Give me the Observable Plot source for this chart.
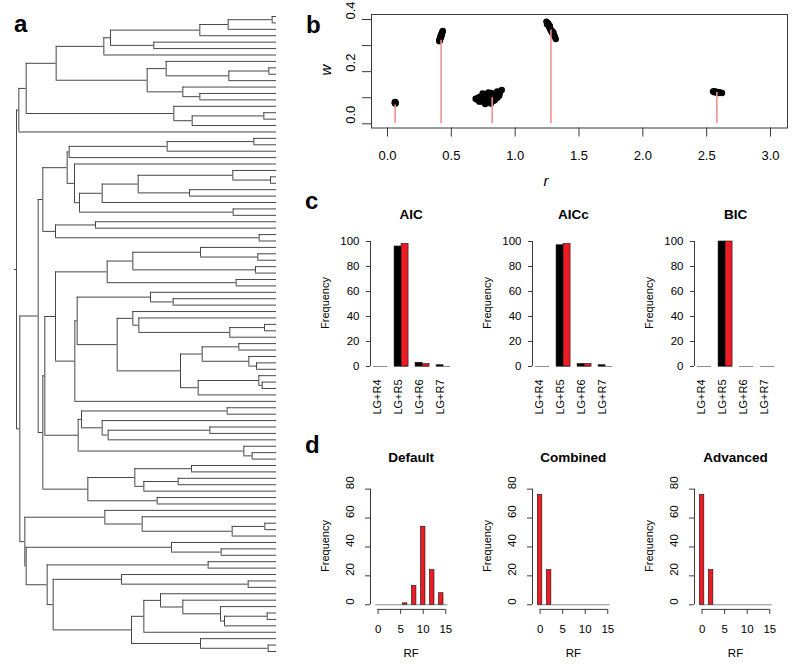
<!DOCTYPE html>
<html>
<head>
<meta charset="utf-8">
<script src="https://cdn.jsdelivr.net/npm/d3@7"></script>
<script src="https://cdn.jsdelivr.net/npm/@observablehq/plot@0.6"></script>
<style>
  body { margin: 0; background: #fff; }
  #fig { position: relative; width: 800px; height: 669px; overflow: hidden; background: #fff;
         font-family: "Liberation Sans", Arial, Helvetica, sans-serif; }
  #fig svg { position: absolute; overflow: visible; }
  .lbl { position: absolute; white-space: nowrap; line-height: 1; color: #000; }
</style>
</head>
<body>
<div id="fig"></div>
<script>
// ---------------- DATA ----------------
// Panel a: phylogeny (Newick; internal node labels are node ages, tips are age 0)
const cladeA   = "((((((((0,0)1.3,0)14.5,0)23.0,(0,0)36.8)49.8,0)51.8,((0,((0,0)2.3,0)14.3)33.1,(0,(0,0)23.0)28.1)38.8)66.1,(0,((0,0)3.8,0)25.3)30.8)75.1,0)77.3";
const cladeX   = "(((((0,0)6.8,0)32.8,0)62.2,(0,((((0,(0,0)1.8)13.1,(0,0)26.1)41.5,0)52.3,(0,0)13.0)59.1)60.6)62.8,((0,0)54.3,(0,0)5.2)66.3)70.1";
const cladeAA  = "((((0,(0,0)5.6)22.8,(0,0)6.3)43.1,(0,0)12.1)50.8,(((0,(0,0)31.0)37.8,((0,(0,((0,0)3.6,0)14.0)41.3)43.1,(((0,0)11.3,(0,(0,0)6.0)8.3)22.3,((0,(0,0)4.3)5.3,0)23.5)28.8)47.8)59.8,0)60.5)66.3";
const clade233 = "(((0,0)14.8,(0,((0,0)20.0,0)50.5)52.3)58.5,(0,(0,0)7.3)9.8)59.5";
const clade262 = "(((0,0)25.5,((0,0)29.5,0)39.8)42.5,(0,0)35.8)56.6";
const clade73  = "((0,(0,((0,0)3.5,0)13.3)40.3)51.5,((0,(0,0)16.6)31.5,((0,0)20.5,((0,(0,0)8.5)46.5,(((0,(0,(0,((0,0)2.8,0)15.6)16.8)28.1)34.8,0)39.8,(0,(0,0)2.5)22.8)43.5)67.0)68.8)75.1)75.5";
const treeNewick = `(${cladeA},((${cladeX},((${cladeAA},${clade233})69.5,${clade262})70.1)71.5,${clade73})77.0)78.0`;
const rootEdge = 0.6;

// Panel b: rate (r) / weight (w) estimates and true components
const fit1 = [[0.058,0.079],[0.062,0.082],[0.060,0.080],[0.057,0.083],[0.063,0.078],[0.060,0.084]];
const fit2 = [[0.406,0.317],[0.408,0.321],[0.409,0.325],[0.411,0.323],[0.412,0.329],[0.414,0.332],[0.415,0.328],
              [0.417,0.336],[0.419,0.339],[0.420,0.334],[0.422,0.343],[0.424,0.341],[0.426,0.347],[0.428,0.350],
              [0.431,0.353],[0.433,0.356],[0.410,0.319],[0.416,0.331],[0.421,0.338],[0.425,0.345]];
const fit3 = [[0.690,0.096],[0.700,0.093],[0.710,0.100],[0.715,0.089],[0.720,0.097],[0.725,0.104],[0.730,0.092],
              [0.735,0.086],[0.740,0.100],[0.745,0.108],[0.750,0.095],[0.755,0.084],[0.760,0.102],[0.762,0.112],
              [0.765,0.090],[0.770,0.079],[0.775,0.098],[0.780,0.106],[0.782,0.115],[0.785,0.087],[0.790,0.095],
              [0.795,0.110],[0.800,0.100],[0.805,0.082],[0.810,0.093],[0.812,0.118],[0.815,0.105],[0.820,0.097],
              [0.825,0.112],[0.830,0.088],[0.835,0.102],[0.840,0.115],[0.845,0.096],[0.850,0.108],[0.855,0.120],
              [0.860,0.100],[0.865,0.113],[0.870,0.122],[0.875,0.108],[0.880,0.117],[0.895,0.130],[0.745,0.116],
              [0.790,0.120],[0.765,0.076],[0.810,0.078],[0.720,0.085],[0.840,0.090],[0.860,0.124]];
const fit4 = [[1.245,0.392],[1.250,0.388],[1.255,0.384],[1.258,0.380],[1.262,0.377],[1.265,0.374],[1.268,0.372],
              [1.270,0.369],[1.274,0.366],[1.276,0.363],[1.279,0.360],[1.282,0.358],[1.285,0.355],[1.288,0.352],
              [1.292,0.348],[1.296,0.345],[1.300,0.343],[1.305,0.340],[1.310,0.335],[1.318,0.325],[1.260,0.385],
              [1.272,0.375],[1.290,0.355],[1.300,0.350],[1.250,0.382]];
const fit5 = [[2.550,0.124],[2.560,0.125],[2.565,0.122],[2.570,0.123],[2.575,0.121],[2.580,0.122],[2.585,0.120],
              [2.590,0.121],[2.595,0.119],[2.600,0.120],[2.610,0.119],[2.620,0.118],[2.560,0.121],[2.590,0.118]];
const trueR = [0.06, 0.42, 0.82, 1.28, 2.58];
const trueW = [0.072, 0.32, 0.10, 0.36, 0.12];
const xTicksB = [0, 0.5, 1, 1.5, 2, 2.5, 3];
const yTicksB = [0, 0.1, 0.2, 0.3, 0.4];
const yLabelsB = [0, 0.2, 0.4];

// Panel c: model selection frequencies
const models = ["LG+R4", "LG+R5", "LG+R6", "LG+R7"];
const criteria = ["AIC", "AICc", "BIC"];
const aicBlack  = [0, 96, 3, 1];
const aicRed    = [0, 98, 2, 0];
const aiccBlack = [0, 97, 2, 1];
const aiccRed   = [0, 98, 2, 0];
const bicBlack  = [0, 100, 0, 0];
const bicRed    = [0, 100, 0, 0];
const yTicksC = [0, 20, 40, 60, 80, 100];

// Panel d: RF distance histograms
const methods = ["Default", "Combined", "Advanced"];
const rfDefault  = [6, 8, 10, 12, 14];
const freqDefault = [1, 13, 54, 24, 8];
const rfCombined = [0, 2];
const freqCombined = [76, 24];
const rfAdvanced = [0, 2];
const freqAdvanced = [76, 24];
const rfBreaks = [-0.5, 15.5];
const binWidth = 1;
const xTicksD = [0, 5, 10, 15];
const yTicksD = [0, 20, 40, 60, 80];

// ---------------- STYLE / LAYOUT ----------------
const FONT = '"Liberation Sans", Arial, Helvetica, sans-serif';
const RED = "#ec1c24";
const PINK = "#f29191";
const INK = "#3a3a3a";
const fig = document.getElementById("fig");

function addPlot(frame, pad, opts) {
  const svg = Plot.plot({
    width: frame.x1 - frame.x0 + pad[1] + pad[3],
    height: frame.y1 - frame.y0 + pad[0] + pad[2],
    marginTop: pad[0], marginRight: pad[1], marginBottom: pad[2], marginLeft: pad[3],
    style: {background: "transparent", overflow: "visible", fontFamily: FONT, color: "#000"},
    ...opts
  });
  svg.style.position = "absolute";
  svg.style.left = (frame.x0 - pad[3]) + "px";
  svg.style.top = (frame.y0 - pad[0]) + "px";
  fig.appendChild(svg);
  return svg;
}

function hlabel(text, x, baseline, size, o = {}) {
  const d = document.createElement("div");
  d.className = "lbl";
  d.textContent = text;
  d.style.fontSize = size + "px";
  d.style.fontWeight = o.weight || "normal";
  d.style.fontStyle = o.style || "normal";
  d.style.left = x + "px";
  d.style.top = (baseline - 0.8465 * size) + "px";
  if ((o.anchor || "middle") === "middle") d.style.transform = "translateX(-50%)";
  fig.appendChild(d);
}
function vlabel(text, cx, cy, size, o = {}) {
  const d = document.createElement("div");
  d.className = "lbl";
  d.textContent = text;
  d.style.fontSize = size + "px";
  d.style.fontWeight = o.weight || "normal";
  d.style.fontStyle = o.style || "normal";
  d.style.left = cx + "px";
  d.style.top = cy + "px";
  d.style.transform = "translate(-50%,-50%) rotate(-90deg)";
  fig.appendChild(d);
}

// ---------------- PANEL a: tree ----------------
function parseTree(s) {
  let i = 0;
  function num() { const j = i; while (i < s.length && /[0-9.]/.test(s[i])) i++; return +s.slice(j, i); }
  function node() {
    if (s[i] === "(") {
      i++;
      const children = [node()];
      while (s[i] === ",") { i++; children.push(node()); }
      if (s[i] !== ")") throw new Error("Newick parse error at " + i);
      i++;
      return {children, age: num()};
    }
    return {children: null, age: num()};
  }
  const t = node();
  if (i !== s.length) throw new Error("Trailing Newick at " + i);
  return t;
}
const tree = parseTree(treeNewick);
let nTips = 0;
const hSegs = [], vSegs = [];
(function layout(n) {
  if (!n.children) { n.y = ++nTips; return; }
  n.children.forEach(layout);
  const ys = n.children.map(c => c.y);
  n.y = (ys[0] + ys[ys.length - 1]) / 2;
  vSegs.push({age: n.age, y1: ys[0], y2: ys[ys.length - 1]});
  n.children.forEach(c => hSegs.push({y: c.y, a1: n.age, a2: c.age}));
})(tree);
hSegs.push({y: tree.y, a1: tree.age + rootEdge, a2: tree.age});

addPlot({x0: 16, y0: 16, x1: 276, y1: 651}, [4, 4, 4, 4], {
  x: {domain: [tree.age, 0], axis: null, label: null},
  y: {domain: [1, nTips], reverse: true, axis: null, label: null},
  marks: [
    Plot.ruleY(hSegs, {y: "y", x1: "a1", x2: "a2", stroke: "#474747", strokeWidth: 1}),
    Plot.ruleX(vSegs, {x: "age", y1: "y1", y2: "y2", stroke: "#474747", strokeWidth: 1})
  ]
});

// ---------------- PANEL b: r / w scatter ----------------
const fits = [fit1, fit2, fit3, fit4, fit5].flat().map(([r, w]) => ({r, w}));
addPlot({x0: 371, y0: 14, x1: 787, y1: 127.5}, [5, 5, 40, 30], {
  x: {domain: [-0.1253, 3.1332], axis: null, label: null},
  y: {domain: [-0.0161, 0.4192], axis: null, label: null},
  marks: [
    Plot.dot(fits, {x: "r", y: "w", r: 3.2, fill: "#000"}),
    Plot.ruleX(trueR, {x: d => d, y1: 0, y2: (d, i) => trueW[i], stroke: PINK, strokeWidth: 1.6}),
    Plot.frame({stroke: INK}),
    Plot.axisY(yTicksB, {tickSize: 9, tickFormat: () => "", stroke: INK}),
    Plot.text(yLabelsB, {y: d => d, frameAnchor: "left", dx: -20.3, rotate: -90, text: d => d.toFixed(1), fontSize: 13}),
    Plot.axisX(xTicksB, {tickSize: 9, tickPadding: 13.5, tickFormat: d => d.toFixed(1), fontSize: 13, stroke: INK})
  ]
});

// ---------------- PANEL c: model selection ----------------
const colStep = 162.2;
const blackSets = [aicBlack, aiccBlack, bicBlack];
const redSets = [aicRed, aiccRed, bicRed];
criteria.forEach((crit, k) => {
  const x0 = 369.6 + k * colStep;
  const bars = models.flatMap((m, i) => [{i, j: 0, v: blackSets[k][i]}, {i, j: 1, v: redSets[k][i]}]);
  const bx1 = d => 1 + 3 * d.i + d.j;
  const bx2 = d => 2 + 3 * d.i + d.j;
  addPlot({x0, y0: 241, x1: x0 + 83.16, y1: 366}, [5, 5, 60, 40], {
    x: {domain: [0.56, 12.44], axis: null, label: null},
    y: {domain: [0, 100], axis: null, label: null},
    marks: [
      Plot.ruleY(bars, {y: 0, x1: bx1, x2: bx2, stroke: "#8a8a8a"}),
      Plot.rect(bars.filter(d => d.v > 0 && d.j === 0), {x1: bx1, x2: bx2, y1: 0, y2: "v", fill: "#000", stroke: "#111", strokeWidth: 0.6}),
      Plot.rect(bars.filter(d => d.v > 0 && d.j === 1), {x1: bx1, x2: bx2, y1: 0, y2: "v", fill: RED, stroke: "#111", strokeWidth: 0.6}),
      Plot.ruleX([0.56], {y1: 0, y2: 100, stroke: INK}),
      Plot.axisY(yTicksC, {tickSize: 4, tickPadding: 7, fontSize: 11.5, stroke: INK}),
      Plot.text(models, {x: (d, i) => 2 + 3 * i, frameAnchor: "bottom", dy: 13, rotate: -90, textAnchor: "end", fontSize: 11})
    ]
  });
  hlabel(crit, x0 + 41.6, 219.8, 13.5, {weight: "bold"});
  vlabel("Frequency", 325 + k * colStep, 303, 11);
});

// ---------------- PANEL d: RF histograms ----------------
const rfSets = [rfDefault, rfCombined, rfAdvanced];
const freqSets = [freqDefault, freqCombined, freqAdvanced];
methods.forEach((meth, k) => {
  const x0 = 369.7 + k * colStep;
  const bins = rfSets[k].map((v, i) => ({rf: v, f: freqSets[k][i]}));
  addPlot({x0, y0: 483.7, x1: x0 + 82.86, y1: 608.6}, [5, 5, 40, 30], {
    x: {domain: [-1.68, 16.68], axis: null, label: null},
    y: {domain: [-3.2, 83.2], axis: null, label: null},
    marks: [
      Plot.ruleY([0], {x1: rfBreaks[0], x2: rfBreaks[1], stroke: "#8a8a8a"}),
      Plot.rect(bins, {x1: d => d.rf - binWidth / 2, x2: d => d.rf + binWidth / 2, y1: 0, y2: "f", fill: RED, stroke: "#111", strokeWidth: 0.6}),
      Plot.ruleX([-1.68], {y1: 0, y2: 80, stroke: INK}),
      Plot.axisY(yTicksD, {tickSize: 5, tickFormat: () => "", stroke: INK}),
      Plot.text(yTicksD, {y: d => d, frameAnchor: "left", dx: -19.7, rotate: -90, text: d => String(d), fontSize: 11.5}),
      Plot.ruleY([-3.2], {x1: 0, x2: 15, stroke: INK}),
      Plot.axisX(xTicksD, {tickSize: 5, tickPadding: 10.6, fontSize: 11.5, stroke: INK})
    ]
  });
  hlabel(meth, x0 + 41.4, 462.5, 13.5, {weight: "bold"});
  vlabel("Frequency", 325 + k * colStep, 546, 11);
  hlabel("RF", x0 + 41.4, 657.4, 11.5);
});

// ---------------- labels ----------------
hlabel("a", 14, 32.7, 24, {weight: "bold", anchor: "start"});
hlabel("b", 306, 33, 24, {weight: "bold", anchor: "start"});
hlabel("c", 305, 209.3, 24, {weight: "bold", anchor: "start"});
hlabel("d", 305, 453.3, 24, {weight: "bold", anchor: "start"});
vlabel("w", 324.7, 70, 15, {style: "italic"});
hlabel("r", 546, 185.9, 15, {style: "italic"});
</script>
</body>
</html>
